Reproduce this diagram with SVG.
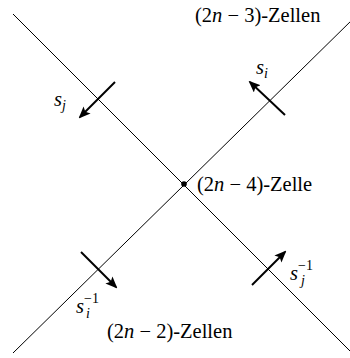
<svg xmlns="http://www.w3.org/2000/svg" width="350" height="358" viewBox="0 0 350 358">
<style>
.ln{stroke:#000;stroke-width:1;fill:none}
.ar{stroke:#000;stroke-width:2;fill:none;marker-end:url(#ah)}
.t{font-family:'Liberation Serif','Times New Roman',serif;font-size:20.5px;fill:#000}
.m{font-style:italic}
.sb{font-size:14px}
</style>
<defs>
<marker id="ah" markerUnits="userSpaceOnUse" markerWidth="12" markerHeight="10" viewBox="0 0 12 10" refX="10" refY="5" orient="auto">
<path d="M0,0 L12,5 L0,10 L2.5,5 Z" fill="#000"/>
</marker>
</defs>
<rect width="350" height="358" fill="#fff"/>
<g id="connectors">
<line class="ln" x1="13" y1="14" x2="354" y2="355"/>
<line class="ln" x1="13" y1="353" x2="354" y2="18"/>
<line class="ar" x1="115" y1="82" x2="80" y2="117"/>
<line class="ar" x1="285" y1="115" x2="250" y2="82"/>
<line class="ar" x1="81" y1="252" x2="116" y2="287"/>
<line class="ar" x1="252" y1="285" x2="285" y2="252"/>
</g>
<g id="center">
<circle cx="184" cy="184" r="2.8" fill="#000"/>
<text class="t" x="197" y="191">(2<tspan class="m">n</tspan> − 4)-Zelle</text>
</g>
<g id="top">
<text class="t" x="195" y="22">(2<tspan class="m">n</tspan> − 3)-Zellen</text>
</g>
<g id="bottom">
<text class="t" x="107" y="338">(2<tspan class="m">n</tspan> − 2)-Zellen</text>
</g>
<g id="lbl-sj">
<text class="t" x="54" y="106"><tspan class="m">s</tspan><tspan class="m sb" dy="4">j</tspan></text>
</g>
<g id="lbl-si">
<text class="t" x="256" y="74"><tspan class="m">s</tspan><tspan class="m sb" dy="4">i</tspan></text>
</g>
<g id="lbl-si-inv">
<text class="t" x="76" y="313"><tspan class="m">s</tspan><tspan class="sb" dy="-10">−1</tspan></text>
<text class="t m sb" x="86" y="318">i</text>
</g>
<g id="lbl-sj-inv">
<text class="t" x="290" y="280"><tspan class="m">s</tspan><tspan class="sb" dy="-10">−1</tspan></text>
<text class="t m sb" x="301" y="285">j</text>
</g>
</svg>
